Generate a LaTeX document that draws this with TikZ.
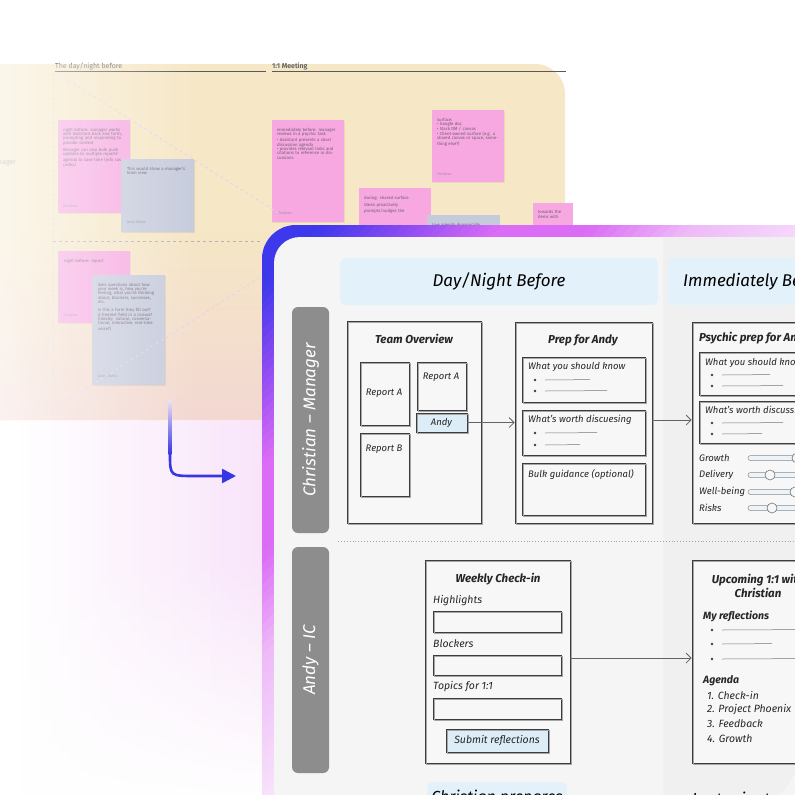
\documentclass[tikz,border=0pt]{standalone}
\usepackage{fontspec}
\setmainfont{Fira Sans}
\usetikzlibrary{arrows.meta,fadings}
\definecolor{boardy}{HTML}{F6E7C6}
\definecolor{boardp}{HTML}{F3D8D2}
\definecolor{stpink}{HTML}{F7A8E1}
\definecolor{stblue}{HTML}{C6CBDC}
\definecolor{sttext}{HTML}{6E5F70}
\definecolor{glowp}{HTML}{F8E4FA}
\definecolor{fb1}{HTML}{3D38EC}
\definecolor{fb2}{HTML}{8E4CF2}
\definecolor{fb3}{HTML}{DA6CF6}
\definecolor{fb4}{HTML}{EEB8F8}
\definecolor{fb5}{HTML}{F5D8FA}
\definecolor{fb6}{HTML}{FCF3FD}
\definecolor{panelbg}{HTML}{F5F5F5}
\definecolor{colbg}{HTML}{F0F0F0}
\definecolor{boxbg}{HTML}{F7F7F7}
\definecolor{hdrblue}{HTML}{E3F1FB}
\definecolor{lblgray}{HTML}{8D8D8D}
\definecolor{skline}{HTML}{3C3C3C}
\definecolor{btnblue}{HTML}{DDEDF8}
\definecolor{arrowblue}{HTML}{3636E4}
\definecolor{arrowfade}{HTML}{EFE2F4}
\definecolor{lavline}{HTML}{E2D2F2}
\newcommand\hnd{\itshape}
\newcommand\fs[1]{\fontsize{#1}{#1}\selectfont}
\newcommand\skbox[6]{\node[skb,#6,minimum width={#4-#2},minimum height={#5-#3}] (#1) at ({(#2+#4)/2},{(#3+#5)/2}) {};}
\newcommand\bul[3]{\fill[skline] (#1,#2) circle (1.3); \draw[skline!70, line width=0.5] (#1+10,#2) -- (#3,#2-0.4);}
\begin{document}
\begin{tikzpicture}[x=1pt,y=-1pt,
  skb/.style={draw=skline, line width=0.75pt, inner sep=0pt, fill=boxbg,
    postaction={draw=skline!45, line width=0.4pt, transform canvas={shift={(0.9pt,-0.8pt)}}}},
  sticky/.style={inner sep=0pt, draw=none},
  sttxt/.style={anchor=north west, inner sep=0pt, font=\fs{4.3}, text=sttext, align=left},
  stname/.style={anchor=west, inner sep=0pt, font=\fs{3.6}, text=sttext!70},
  ttl/.style={font=\hnd\bfseries\fs{11.5}, text=black!85, inner sep=0pt},
  lbl/.style={font=\hnd\fs{9.5}, text=black!85, inner sep=0pt, anchor=west},
  conn/.style={draw=skline!80, line width=0.8pt, -{Straight Barb[length=5pt,width=10pt]}},
  rowlbl/.style={fill=lblgray, rounded corners=6pt, inner sep=0pt},
  hdr/.style={fill=hdrblue, rounded corners=6pt, inner sep=0pt},
  track/.style={draw=skline!60, line width=0.5pt, fill=btnblue!60, rounded corners=2.5pt},
  knob/.style={draw=skline!70, line width=0.6pt, fill=boxbg}]
\useasboundingbox (0,0) rectangle (795,795);
\clip (0,0) rectangle (795,795);
\fill[white] (0,0) rectangle (795,795);
% glow (opaque strips, then a white fade towards the bottom)
\foreach \i in {0,...,24} {
  \pgfmathtruncatemacro\p{\i*4+4}
  \fill[glowp!\p!white] ({20+\i*10},400) rectangle ({30.8+\i*10},795);
}
\fill[white, path fading=north] (0,560) rectangle (265,800);
% board
\fill[boardy, rounded corners=30pt] (-40,64) rectangle (565,420);
\fill[boardp, path fading=north] (-10,230) rectangle (300,420);
\node[anchor=east, inner sep=0pt, font=\fs{7}, text=black!45] (mgr) at (16,163) {Manager};
\node[anchor=west, inner sep=0pt, font=\fs{7}, text=black!60] (h1) at (55,66) {The day/night before};
\node[anchor=west, inner sep=0pt, font=\bfseries\fs{7}, text=black!60] (h2) at (272,66) {1:1 Meeting};
\draw[black!65, line width=1pt] (55,71) -- (266,71);
\draw[black!65, line width=1pt] (272,71) -- (566,71);
\draw[black!15, dashed, line width=0.5pt] (53,73) -- (53,420);
\draw[black!30, dashed, line width=0.8pt] (53,241) -- (262,241);
% stickies
\fill[black, opacity=0.06] (59,121) rectangle (131,214);
\node[sticky, fill=stpink, minimum width=72, minimum height=93] (s1) at (94,166.5) {};
\node[sttxt, text width=62] (s1t) at (s1.north west) [xshift=5pt, yshift=-8pt] {night before: manager works with Assistant back and forth, prompting and responding to provide context\\[3pt]Manager can also bulk push updates to multiple reports' agenda to save time (info cascades)};
\node[stname] (s1n) at (63,206) {Christian};
\fill[black, opacity=0.08] (122,160) rectangle (195,233);
\node[sticky, fill=stblue, minimum width=73, minimum height=73] (s2) at (157.5,195.5) {};
\node[sttxt, text width=62] (s2t) at (s2.north west) [xshift=6pt, yshift=-8pt] {This would show a manager's team view};
\node[stname] (s2n) at (127,223) {Andy Matta};
\fill[black, opacity=0.06] (273,121) rectangle (345,223);
\node[sticky, fill=stpink, minimum width=72, minimum height=102] (s3) at (308,171) {};
\node[sttxt, text width=62] (s3t) at (s3.north west) [xshift=5pt, yshift=-8pt] {immediately before: manager reviews in a psychic task\\[2pt]\textbullet\ Assistant presents a short discussion agenda\\\textbullet\ provides relevant links and citations to reference in discussions};
\node[stname] (s3n) at (277,213) {Christian};
\fill[black, opacity=0.06] (433,111) rectangle (505,183);
\node[sticky, fill=stpink, minimum width=72, minimum height=72] (s4) at (468,146) {};
\node[sttxt, text width=62] (s4t) at (s4.north west) [xshift=5pt, yshift=-8pt] {surface:\\\textbullet\ Google doc\\\textbullet\ Slack DM / canvas\\\textbullet\ Client-owned surface (e.g. a shared canvas or space, something else?)};
\node[stname] (s4n) at (437,174) {Christian};
\node[sticky, fill=stpink, minimum width=72, minimum height=60] (s5) at (395,218) {};
\node[sttxt, text width=62] (s5t) at (s5.north west) [xshift=5pt, yshift=-8pt] {during: shared surface\\[3pt]Glean proactively prompts/nudges the};
\node[sticky, fill=stblue, minimum width=73, minimum height=40] (s6) at (463.5,235) {};
\node[sttxt, text width=62] (s6t) at (s6.north west) [xshift=5pt, yshift=-8pt] {Live agenda dynamically};
\node[sticky, fill=stpink, minimum width=40, minimum height=45] (s7) at (553,225) {};
\node[sttxt, text width=40] (s7t) at (s7.north west) [xshift=5pt, yshift=-8pt] {towards the\\items with};
\fill[black, opacity=0.05] (59,252) rectangle (131,324);
\node[sticky, fill=stpink, minimum width=72, minimum height=72] (s8) at (94,287) {};
\node[sttxt, text width=62] (s8t) at (s8.north west) [xshift=6pt, yshift=-8pt] {night before: report};
\node[stname] (s8n) at (63,315) {Christian};
\fill[black, opacity=0.07] (93,276) rectangle (166,386);
\node[sticky, fill=stblue, minimum width=73, minimum height=110] (s9) at (128.5,330) {};
\node[sttxt, text width=60] (s9t) at (s9.north west) [xshift=6pt, yshift=-8pt] {Asks questions about how your week is, how you're feeling, what you're thinking about, blockers, successes, etc.\\[4pt]Is this a form they fill out? A freetext field in a canvas? (ideally: natural, conversational, interactive, real-time voice?)};
\node[stname] (s9n) at (98,376) {Andy Mattis};
\draw[lavline, dashed, line width=0.8pt] (58,74) -- (280,214);
\draw[lavline, dashed, line width=0.8pt] (50,412) -- (262,276);
\fill[white, path fading=east, opacity=0.7] (-10,64) rectangle (200,420);
% left arrow
\coordinate (at) at (170,400);
\coordinate (am) at (170,454);
\coordinate (ae) at (236,476);
\fill[top color=arrowfade, bottom color=arrowblue] (168.7,400) rectangle (171.3,454);
\draw[arrowblue, line width=2.6pt, -{Triangle[length=14pt,width=14pt]}] (am) .. controls (170,476) .. (195,476) -- (ae);
% panel frame as opaque diagonal strips
\begin{scope}
\clip[rounded corners=34pt] (262,225) rectangle (850,850);
\foreach \da/\db/\ca/\cb in {0/60/fb1/fb1, 60/150/fb1/fb2, 150/240/fb2/fb3, 240/330/fb3/fb3, 330/430/fb3/fb4, 430/540/fb4/fb5, 540/640/fb5/fb6, 640/900/fb6/fb6} {
  \foreach \k in {0,...,9} {
    \pgfmathsetmacro\c{487+\da+(\db-\da)*\k/10}
    \pgfmathsetmacro\cc{487+\da+(\db-\da)*(\k+1)/10+1}
    \pgfmathtruncatemacro\p{95-\k*10}
    \fill[\ca!\p!\cb] (\c-150,150) -- (\cc-150,150) -- (\cc-900,900) -- (\c-900,900) -- cycle;
  }
}
\end{scope}
\fill[panelbg, rounded corners=26pt] (274,237) rectangle (838,838);
\fill[colbg] (663,237) -- (798,237) -- (798,700) [rounded corners=50pt] -- (798,805) -- (700,805) [sharp corners] -- (663,805) -- cycle;
% headers
\node[hdr, minimum width=318, minimum height=47] (hd1) at (499,281.5) {};
\node[font=\hnd\fs{17}, inner sep=0pt] (hd1t) at (hd1) {Day/Night Before};
\node[hdr, minimum width=162, minimum height=47] (hd2) at (749,281.5) {};
\node[font=\hnd\fs{17}, inner sep=0pt, anchor=west] (hd2t) at (683,282) {Immediately Before};
% row labels
\node[rowlbl, minimum width=37, minimum height=226] (r1) at (310.5,420) {};
\node[rotate=90, font=\hnd\fs{17}, text=white, inner sep=0pt] (r1t) at (r1) {Christian -- Manager};
\node[rowlbl, minimum width=37, minimum height=226] (r2) at (310.5,660) {};
\node[rotate=90, font=\hnd\fs{17}, text=white, inner sep=0pt] (r2t) at (r2) {Andy -- IC};
\draw[black!35, dotted, line width=0.9pt] (338,541) -- (800,541);
% team overview
\skbox{team}{347}{321}{481}{523}{}
\node[ttl] (teamt) at (414,339) {Team Overview};
\skbox{ra1}{360}{362}{409}{425}{}
\node[lbl, anchor=center] (ra1t) at (384,393) {Report A};
\skbox{ra2}{417}{362}{466}{410}{}
\node[lbl, anchor=center] (ra2t) at (441,377) {Report A};
\skbox{andy}{416}{413}{467}{432}{fill=btnblue}
\node[lbl, anchor=center] (andyt) at (andy) {Andy};
\skbox{rb}{360}{433}{409}{496}{}
\node[lbl, anchor=center] (rbt) at (384,449) {Report B};
% prep for andy
\skbox{prep}{515}{322}{652}{523}{}
\node[ttl] (prept) at (583,340) {Prep for Andy};
\skbox{p1}{522}{357}{645}{402}{}
\node[lbl] (p1t) at (528,367) {What you should know};
\bul{535}{380}{590}\bul{535}{391}{607}
\skbox{p2}{522}{410}{645}{455}{}
\node[lbl] (p2t) at (528,420) {What's worth discuesing};
\bul{535}{433}{597}\bul{535}{445}{580}
\skbox{p3}{522}{463}{645}{515}{}
\node[lbl] (p3t) at (528,474) {Bulk guidance (optional)};
% psychic
\skbox{psy}{692}{322}{840}{523}{}
\node[ttl, anchor=west] (psyt) at (699,338) {Psychic prep for Andy};
\skbox{q1}{699}{352}{840}{395}{}
\node[lbl] (q1t) at (705,363) {What you should know};
\bul{712}{375}{770}\bul{712}{386}{783}
\skbox{q2}{699}{401}{840}{443}{}
\node[lbl] (q2t) at (705,411) {What's worth discussing};
\bul{712}{423}{783}\bul{712}{434}{762}
\node[lbl] (g1) at (699,458) {Growth};
\node[lbl] (g2) at (699,475) {Delivery};
\node[lbl] (g3) at (699,492) {Well-being};
\node[lbl] (g4) at (699,508) {Risks};
\draw[track] (748,455.5) rectangle (830,460.5); \draw[knob] (797,458) circle (5);
\draw[track] (748,472.5) rectangle (830,477.5); \draw[knob] (770,475) circle (5);
\draw[track] (748,489.5) rectangle (830,494.5); \draw[knob] (795,492) circle (5);
\draw[track] (748,505.5) rectangle (830,510.5); \draw[knob] (772,508) circle (5);
% arrows row 1
\draw[conn] (andy.east) -- (andy.east -| prep.west);
\draw[conn] (prep.east |- 0,420) -- (psy.west |- 0,420);
% weekly check-in
\skbox{chk}{425}{560}{570}{763}{}
\node[ttl] (chkt) at (498,579) {Weekly Check-in};
\node[lbl, font=\hnd\fs{10.5}] (c1) at (433,601) {Highlights};
\skbox{i1}{433}{611}{561}{632}{}
\node[lbl, font=\hnd\fs{10.5}] (c2) at (433,644) {Blockers};
\skbox{i2}{433}{655}{561}{675}{}
\node[lbl, font=\hnd\fs{10.5}] (c3) at (433,687) {Topics for 1:1};
\skbox{i3}{433}{698}{561}{719}{}
\skbox{btn}{446}{729}{548}{752}{fill=btnblue}
\node[lbl, anchor=center, font=\hnd\fs{10.5}] (btnt) at (btn) {Submit reflections};
% upcoming
\skbox{up}{692}{560}{840}{763}{}
\node[ttl, align=center, font=\hnd\bfseries\fs{11.5}] (upt) at (758,586) {Upcoming 1:1 with\\[1pt]Christian};
\node[lbl, font=\hnd\bfseries\fs{10.5}] (myr) at (703,616) {My reflections};
\bul{712}{630}{800}\bul{712}{644}{772}\bul{712}{659}{800}
\node[lbl, font=\hnd\bfseries\fs{10.5}] (ag) at (703,681) {Agenda};
\node[lbl, font=\hnd\fs{10.5}] (a1) at (707,695) {1. Check-in};
\node[lbl, font=\hnd\fs{10.5}] (a2) at (707,710) {2. Project Phoenix};
\node[lbl, font=\hnd\fs{10.5}] (a3) at (707,724) {3. Feedback};
\node[lbl, font=\hnd\fs{10.5}] (a4) at (707,739) {4. Growth};
\draw[conn] (chk.east |- 0,658) -- (up.west |- 0,658);
% bottom headers
\node[hdr, minimum width=140, minimum height=30] (hd3) at (497,797) {};
\node[font=\hnd\fs{16}, inner sep=0pt] (hd3t) at (497,798) {Christian prepares};
\node[font=\hnd\fs{16}, inner sep=0pt, anchor=west] (hd4t) at (692,798) {Last-minute};
\end{tikzpicture}
\end{document}
